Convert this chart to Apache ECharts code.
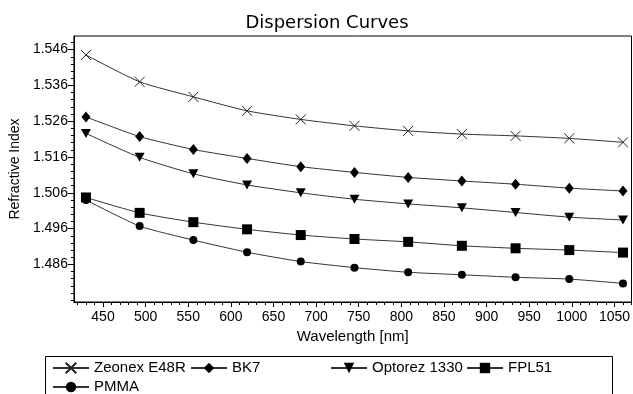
<!DOCTYPE html>
<html>
<head>
<meta charset="utf-8">
<script src="https://cdn.jsdelivr.net/npm/echarts@6/dist/echarts.min.js"></script>
<style>
html, body { margin: 0; padding: 0; background: #fff; }
#chart { width: 633px; height: 394px; }
</style>
</head>
<body>
<div id="chart"></div>
<script>
// wavelengths in nm
var wavelengths = [430, 493, 556, 619, 682, 745, 808, 871, 934, 997, 1060];

var zeonex  = [1.5445, 1.5370, 1.5328, 1.5289, 1.5265, 1.5247, 1.5233, 1.5224, 1.5219, 1.5212, 1.5201];
var bk7     = [1.5272, 1.5217, 1.5181, 1.5156, 1.5133, 1.5117, 1.5103, 1.5093, 1.5084, 1.5073, 1.5065];
var optorez = [1.5226, 1.5159, 1.5113, 1.5082, 1.5060, 1.5042, 1.5029, 1.5018, 1.5005, 1.4992, 1.4984];
var fpl51   = [1.5047, 1.5004, 1.4978, 1.4958, 1.4942, 1.4931, 1.4923, 1.4912, 1.4905, 1.4900, 1.4893];
var pmma    = [1.5040, 1.4967, 1.4928, 1.4894, 1.4868, 1.4851, 1.4838, 1.4831, 1.4824, 1.4819, 1.4807];

var xTicks = [450, 500, 550, 600, 650, 700, 750, 800, 850, 900, 950, 1000, 1050];
var yTicks = [1.486, 1.496, 1.506, 1.516, 1.526, 1.536, 1.546];

// minor ticks (axis decoration only)
var xMinor = [];
for (var i = 420; i <= 1070; i += 10) xMinor.push(i);
var yMinor = [];
for (var j = 0; j <= 36; j++) yMinor.push(+(1.476 + j * 0.002).toFixed(3));

var FONT = 'Liberation Sans';
var LINE = '#333';
var MARK = '#000';

function pair(ys) {
    return wavelengths.map(function (w, k) { return [w, ys[k]]; });
}

function mkSeries(name, ys, symbol, size, rotate, open) {
    return {
        name: name,
        type: 'line',
        xAxisIndex: 0,
        yAxisIndex: 0,
        data: pair(ys),
        smooth: 0.2,
        symbol: symbol,
        symbolSize: size,
        symbolRotate: rotate || 0,
        showAllSymbol: true,
        lineStyle: { color: LINE, width: 1 },
        itemStyle: open
            ? { color: 'transparent', borderColor: '#222', borderWidth: 1 }
            : { color: MARK, borderWidth: 0 },
        emphasis: { disabled: true },
        z: 3
    };
}

function mkLegend(name, left, top) {
    return {
        data: [name],
        left: left,
        top: top,
        padding: 0,
        itemGap: 0,
        itemWidth: 36,
        itemHeight: 13,
        selectedMode: false,
        textStyle: { fontFamily: FONT, fontSize: 15, color: '#000', lineHeight: 16 }
    };
}

var chart = echarts.init(document.getElementById('chart'), null, { renderer: 'canvas' });

chart.setOption({
    animation: false,
    backgroundColor: '#fff',
    title: {
        text: 'Dispersion Curves',
        left: 322,
        top: 9,
        textAlign: 'center',
        textStyle: { fontFamily: 'DejaVu Sans', fontSize: 18, fontWeight: 'normal', color: '#000' }
    },
    grid: {
        left: 73, top: 36, right: -2, bottom: 92,
        show: true, borderColor: '#000', borderWidth: 1, backgroundColor: '#fff'
    },
    legend: [
        mkLegend('Zeonex E48R', 52, 360),
        mkLegend('BK7', 190, 360),
        mkLegend('Optorez 1330', 330, 360),
        mkLegend('FPL51', 466, 360),
        mkLegend('PMMA', 52, 379)
    ],
    xAxis: [{
        type: 'value',
        min: 415.9,
        max: 1070,
        name: 'Wavelength [nm]',
        nameLocation: 'middle',
        nameGap: 25,
        nameTextStyle: { fontFamily: FONT, fontSize: 15, color: '#000' },
        axisLine: { show: true, lineStyle: { color: '#000', width: 1 } },
        axisTick: { show: true, length: 5, customValues: xTicks, lineStyle: { color: '#000' } },
        axisLabel: {
            customValues: xTicks, margin: 8,
            fontFamily: FONT, fontSize: 14, color: '#000',
            formatter: function (v) { return String(v); }
        },
        splitLine: { show: false }
    }, {
        type: 'value',
        position: 'bottom',
        min: 415.9,
        max: 1070,
        axisLine: { show: false },
        axisTick: { show: true, length: 3, customValues: xMinor, lineStyle: { color: '#000' } },
        axisLabel: { show: false },
        splitLine: { show: false }
    }],
    yAxis: [{
        type: 'value',
        min: 1.4755,
        max: 1.5498,
        name: 'Refractive Index',
        nameLocation: 'middle',
        nameGap: 47,
        nameTextStyle: { fontFamily: FONT, fontSize: 14, color: '#000' },
        axisLine: { show: true, lineStyle: { color: '#000', width: 1 } },
        axisTick: { show: true, length: 6, customValues: yTicks, lineStyle: { color: '#000' } },
        axisLabel: {
            customValues: yTicks, margin: 6,
            fontFamily: FONT, fontSize: 14, color: '#000',
            formatter: function (v) { return v.toFixed(3); }
        },
        splitLine: { show: false }
    }, {
        type: 'value',
        position: 'left',
        min: 1.4755,
        max: 1.5498,
        axisLine: { show: false },
        axisTick: { show: true, length: 3, customValues: yMinor, lineStyle: { color: '#000' } },
        axisLabel: { show: false },
        splitLine: { show: false }
    }],
    graphic: [{
        type: 'rect',
        shape: { x: 45.5, y: 356.5, width: 567, height: 60 },
        style: { fill: 'none', stroke: '#000', lineWidth: 1 },
        silent: true
    }],
    series: [
        mkSeries('Zeonex E48R', zeonex, 'path://M0,0L10,10M10,0L0,10', 10, 0, true),
        mkSeries('BK7', bk7, 'diamond', [9, 11]),
        mkSeries('Optorez 1330', optorez, 'triangle', [10, 9], 180),
        mkSeries('FPL51', fpl51, 'rect', 10),
        mkSeries('PMMA', pmma, 'circle', 8)
    ]
});
</script>
</body>
</html>
